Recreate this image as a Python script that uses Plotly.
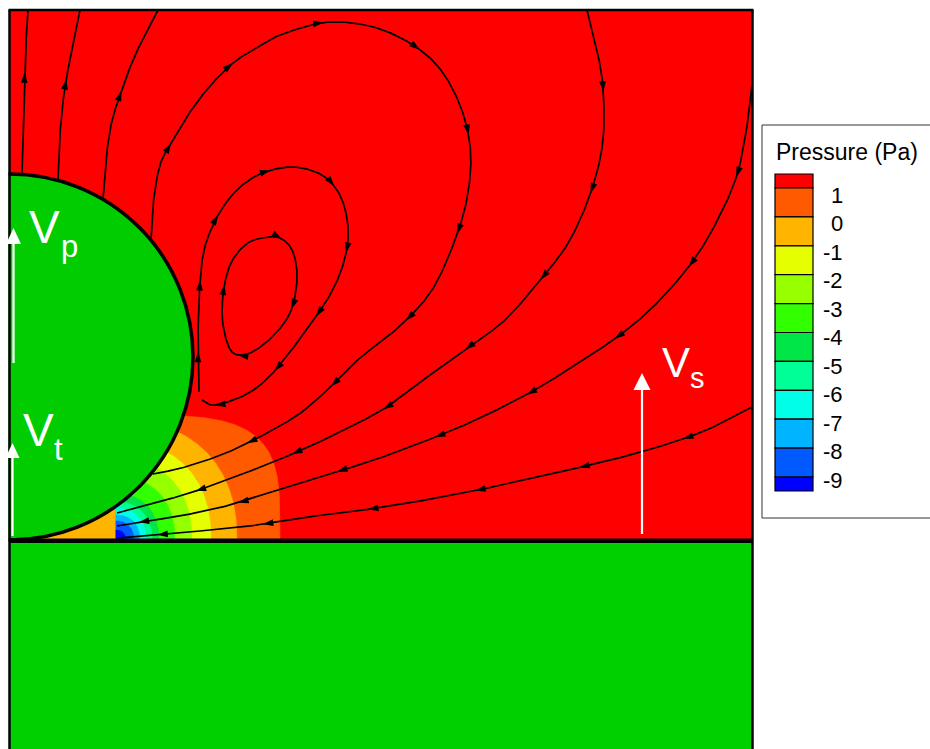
import numpy as np
import plotly.graph_objects as go

W, H = 930, 749

# ---- geometry (plot units = screen pixels, y grows downward) ----
domain_x = [10, 752]
domain_top = 10
wall_y = 541
particle_center = (10, 357)
particle_radius = 183

# ---- pressure bands (Pa) ----
legend_labels = ["1", "0", "-1", "-2", "-3", "-4", "-5", "-6", "-7", "-8", "-9"]
band_colors = ["#FF0000", "#FF5A00", "#FFB400", "#E6FF00", "#96FF00", "#32FF00",
               "#00E646", "#00FF96", "#00FFE6", "#00B4FF", "#005AFF", "#0000FF"]
# outer boundary of each band below 1 Pa, around the low-pressure core
band_center = (116, 541)
band_a = [164, 121, 95, 76, 59, 43, 36, 30, 24, 18, 10]
band_b = [126, 121, 100, 82, 64, 47, 39, 33, 26, 20, 11]
band_n = [4.0, 2.3, 2.3, 2.3, 2.3, 2.3, 2.3, 2.3, 2.3, 2.3, 2.3]

# ---- streamlines ----
stream_a = [(22, 174), (23, 140), (24, 100), (25, 60), (28, 10)]
stream_b = [(58, 180), (59, 150), (62, 110), (67, 75), (73, 45), (80, 10)]
stream_c = [(103, 199), (106, 160), (111, 125), (120, 95), (133, 60), (145, 35), (158, 10)]
stream_outer_loop = [(151, 240), (153, 205), (160, 165), (173, 140), (190, 112), (210, 86),
                     (233, 63), (258, 47), (283, 34), (330, 22), (383, 30), (430, 58),
                     (457, 98), (470, 145), (468, 193), (455, 240), (432, 290), (400, 326),
                     (360, 358), (322, 395), (290, 420), (233, 450), (185, 467), (153, 474)]
stream_s2 = [(587, 10), (597, 50), (603, 88), (603, 140), (592, 189), (570, 240), (542, 278),
             (505, 320), (470, 346), (430, 375), (387, 407), (340, 432), (290, 455),
             (240, 475), (190, 493), (150, 504), (117, 513)]
stream_s3 = [(752, 85), (748, 120), (737, 175), (715, 225), (690, 265), (655, 305), (620, 335),
             (575, 365), (533, 391), (480, 418), (433, 438), (380, 458), (333, 473),
             (280, 490), (230, 505), (180, 516), (140, 522), (117, 526)]
stream_s4 = [(752, 407), (720, 424), (683, 439), (630, 455), (577, 468), (520, 481),
             (473, 491), (420, 501), (363, 510), (300, 518), (257, 525), (200, 531),
             (143, 536), (117, 538)]
stream_mid_loop = [(199, 392), (198, 350), (199, 300), (203, 255), (213, 225), (228, 200),
                   (245, 183), (265, 172), (293, 167), (320, 174), (337, 190), (346, 213),
                   (348, 240), (342, 268), (330, 295), (310, 325), (290, 352), (268, 378),
                   (245, 395), (215, 405), (202, 400)]
stream_inner_loop = [(262, 238), (280, 238), (293, 252), (297, 280), (290, 313), (272, 337),
                     (250, 353), (232, 352), (223, 325), (223, 295), (230, 265), (245, 245)]

# (points, closed, first arrow arc-length, arrow spacing)
streamlines = [
    (stream_a, False, 100, 1000),
    (stream_b, False, 100, 1000),
    (stream_c, False, 110, 1000),
    (stream_outer_loop, False, 100, 101),
    (stream_s2, False, 83, 102),
    (stream_s3, False, 92, 103),
    (stream_s4, False, 76, 107),
    (stream_mid_loop, False, 40, 70),
    (stream_inner_loop, True, 20, 75),
]


def catmull_rom(pts, n=24, closed=False):
    P = np.asarray(pts, float)
    if closed:
        P = np.vstack([P[-1], P, P[0], P[1]])
    else:
        P = np.vstack([2 * P[0] - P[1], P, 2 * P[-1] - P[-2]])
    out = []
    t = np.linspace(0, 1, n, endpoint=False)[:, None]
    for i in range(1, len(P) - 2):
        p0, p1, p2, p3 = P[i - 1], P[i], P[i + 1], P[i + 2]
        out.append(0.5 * (2 * p1 + (-p0 + p2) * t + (2 * p0 - 5 * p1 + 4 * p2 - p3) * t ** 2
                          + (-p0 + 3 * p1 - 3 * p2 + p3) * t ** 3))
    out.append(P[-2][None, :])
    return np.vstack(out)


fig = go.Figure()

# pressure bands, outermost first
cx, cy = band_center
theta = np.linspace(0, np.pi / 2, 90)
for a, b, n, col in zip(band_a, band_b, band_n, band_colors[1:]):
    xs = cx + a * np.cos(theta) ** (2 / n)
    ys = cy - b * np.sin(theta) ** (2 / n)
    xs = np.concatenate([xs, [cx, cx + a]])
    ys = np.concatenate([ys, [cy, cy]])
    fig.add_trace(go.Scatter(x=xs, y=ys, mode="lines", fill="toself", fillcolor=col,
                             line=dict(width=0.6, color=col), hoverinfo="skip",
                             showlegend=False))

# streamlines and direction arrows
arrow_x, arrow_y, arrow_ang = [], [], []
for pts, closed, s0, ds in streamlines:
    c = catmull_rom(pts, closed=closed)
    fig.add_trace(go.Scatter(x=c[:, 0], y=c[:, 1], mode="lines",
                             line=dict(color="black", width=1.7), hoverinfo="skip",
                             showlegend=False))
    seg = np.hypot(np.diff(c[:, 0]), np.diff(c[:, 1]))
    s = np.concatenate([[0], np.cumsum(seg)])
    pos = s0
    while pos < s[-1] - 5:
        i = int(np.searchsorted(s, pos))
        i = min(max(i, 1), len(c) - 2)
        d = c[i + 1] - c[i - 1]
        arrow_x.append(c[i, 0])
        arrow_y.append(c[i, 1])
        arrow_ang.append(np.degrees(np.arctan2(d[0], -d[1])))
        pos += ds

fig.add_trace(go.Scatter(x=arrow_x, y=arrow_y, mode="markers", hoverinfo="skip",
                         showlegend=False,
                         marker=dict(symbol="arrow", size=11, color="black",
                                     angle=arrow_ang, line=dict(width=0))))

shapes = []
# fluid region background
shapes.append(dict(type="rect", layer="below", x0=domain_x[0], x1=domain_x[1],
                   y0=domain_top, y1=wall_y, fillcolor=band_colors[0], line=dict(width=0)))
# gap under the particle, left of the low-pressure core
shapes.append(dict(type="rect", layer="below", x0=domain_x[0], x1=band_center[0],
                   y0=470, y1=wall_y, fillcolor=band_colors[2], line=dict(width=0)))
# particle
pcx, pcy = particle_center
r = particle_radius
shapes.append(dict(type="circle", layer="above", x0=pcx - r, x1=pcx + r, y0=pcy - r,
                   y1=pcy + r, fillcolor="#00CC00", line=dict(color="black", width=3.5)))
# trim the half of the particle outside the domain
shapes.append(dict(type="rect", layer="above", x0=0, x1=domain_x[0] - 1.5, y0=0, y1=H,
                   fillcolor="white", line=dict(width=0)))
# substrate
shapes.append(dict(type="rect", layer="above", x0=domain_x[0], x1=domain_x[1],
                   y0=wall_y + 3, y1=H, fillcolor="#00D000", line=dict(width=0)))
shapes.append(dict(type="line", layer="above", x0=domain_x[0], x1=domain_x[1],
                   y0=wall_y, y1=wall_y, line=dict(color="black", width=5)))
# domain frame
shapes.append(dict(type="line", layer="above", x0=domain_x[0] - 1.5, x1=domain_x[1] + 1.5,
                   y0=domain_top, y1=domain_top, line=dict(color="black", width=2.5)))
shapes.append(dict(type="line", layer="above", x0=domain_x[0] - 0.5, x1=domain_x[0] - 0.5,
                   y0=domain_top, y1=H, line=dict(color="black", width=2.5)))
shapes.append(dict(type="line", layer="above", x0=domain_x[1] + 0.5, x1=domain_x[1] + 0.5,
                   y0=domain_top, y1=H, line=dict(color="black", width=2.5)))

# velocity arrows (white)
vel_arrows = [  # x, tip y, tail y, head length, head half width
    (13.5, 228, 363, 16, 7.5),
    (12.5, 443, 536, 15, 7),
    (642, 373, 534, 17, 8.5),
]
for x, tip, tail, hl, hw in vel_arrows:
    shapes.append(dict(type="line", layer="above", x0=x, x1=x, y0=tip + hl - 1, y1=tail,
                       line=dict(color="white", width=2.2)))
    shapes.append(dict(type="path", layer="above",
                       path=f"M {x} {tip} L {x - hw} {tip + hl} L {x + hw} {tip + hl} Z",
                       fillcolor="white", line=dict(width=0)))

# legend frame and colour boxes
shapes.append(dict(type="rect", layer="above", x0=762, x1=945, y0=125, y1=518,
                   fillcolor="white", line=dict(color="#333333", width=1)))
box_edges = [174, 188] + [188 + 28.9 * k for k in range(1, 11)] + [491]
for k, col in enumerate(band_colors):
    shapes.append(dict(type="rect", layer="above", x0=775, x1=813, y0=box_edges[k],
                       y1=box_edges[k + 1], fillcolor=col,
                       line=dict(color="black", width=1.2)))

font_family = "Liberation Sans, Arial, sans-serif"
annotations = [dict(x=774, y=152, text="Pressure (Pa)", showarrow=False, xanchor="left",
                    yanchor="middle", font=dict(family=font_family, size=23, color="black"))]
for k, lab in enumerate(legend_labels):
    annotations.append(dict(x=845, y=195 + 28.5 * k, text=lab, showarrow=False,
                            xanchor="right", yanchor="middle",
                            font=dict(family=font_family, size=22, color="black")))

# velocity symbols
vel_text = [  # main letter (x, y, size), subscript (text, x, y, size)
    ((44, 227, 46), ("p", 69, 246, 31)),
    ((38, 430, 46), ("t", 58, 449, 31)),
    ((676, 362, 42), ("s", 697, 378, 29)),
]
for (vx, vy, vs), (sub, sx, sy, ss) in vel_text:
    annotations.append(dict(x=vx, y=vy, text="V", showarrow=False, xanchor="center",
                            yanchor="middle",
                            font=dict(family=font_family, size=vs, color="white")))
    annotations.append(dict(x=sx, y=sy, text=sub, showarrow=False, xanchor="center",
                            yanchor="middle",
                            font=dict(family=font_family, size=ss, color="white")))

fig.update_layout(
    width=W, height=H, margin=dict(l=0, r=0, t=0, b=0),
    paper_bgcolor="white", plot_bgcolor="white",
    xaxis=dict(range=[0, W], visible=False, fixedrange=True),
    yaxis=dict(range=[H, 0], visible=False, fixedrange=True),
    shapes=shapes, annotations=annotations, showlegend=False,
)

fig.write_html("out.html")
